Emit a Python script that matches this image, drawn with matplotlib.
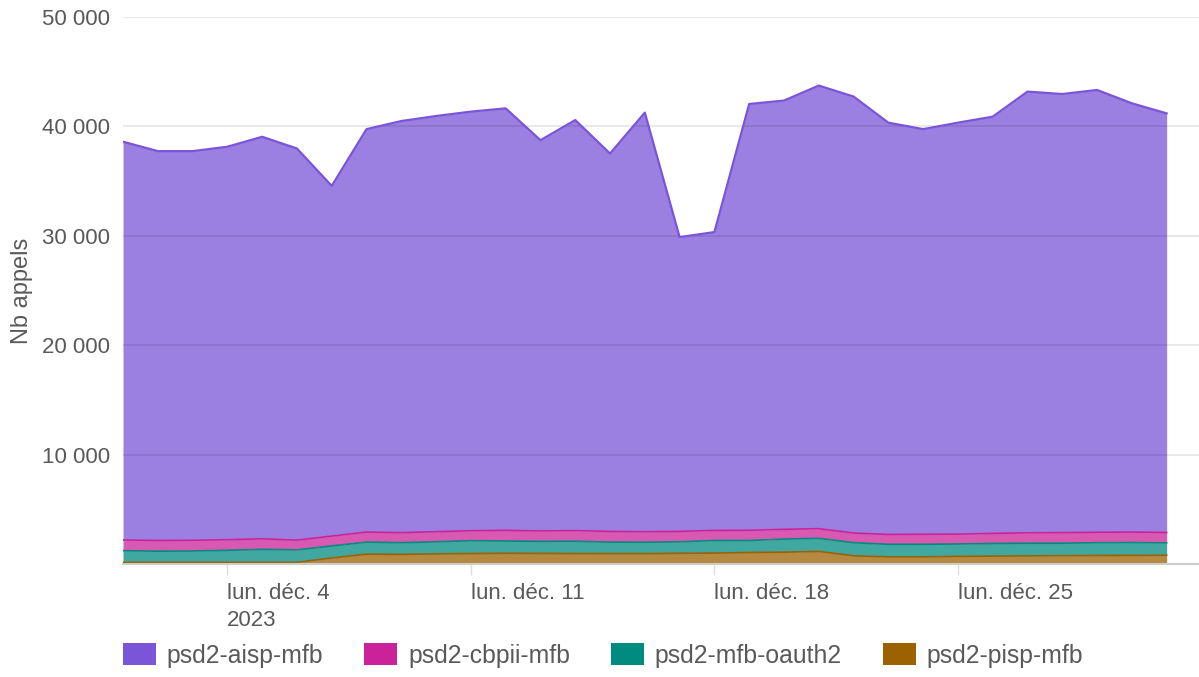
import numpy as np
import pandas as pd
import matplotlib
matplotlib.use("Agg")
import matplotlib.pyplot as plt
import matplotlib.dates as mdates
from matplotlib.patches import Patch
from matplotlib.ticker import FuncFormatter

plt.rcParams["font.family"] = ["Liberation Sans", "DejaVu Sans"]

# ── données ──────────────────────────────────────────────────────────────
dates = pd.date_range("2023-12-01", "2023-12-31", freq="D")

aisp = [36400, 35590, 35570, 35920, 36750, 35800, 32010, 36830, 37620, 38000,
        38310, 38570, 35720, 37530, 34540, 38310, 26900, 27270, 38970, 39190,
        40500, 39900, 37640, 37030, 37610, 38090, 40330, 40090, 40430, 39190,
        38310]
cbpii = [980, 980, 980, 970, 960, 890, 900, 920, 920, 920,
         910, 980, 950, 970, 980, 960, 950, 920, 930, 890,
         880, 880, 900, 920, 900, 920, 950, 970, 950, 960,
         950]
oauth2 = [1070, 1020, 1040, 1100, 1190, 1140, 1100, 1100, 1070, 1110,
          1170, 1120, 1100, 1120, 1050, 1040, 1050, 1150, 1100, 1200,
          1200, 1200, 1150, 1150, 1130, 1160, 1160, 1140, 1170, 1170,
          1130]
pisp = [150, 150, 150, 150, 150, 150, 550, 900, 880, 920,
        960, 980, 970, 960, 950, 950, 980, 1000, 1050, 1080,
        1150, 750, 650, 650, 700, 720, 740, 760, 780, 790,
        800]

# ordre d'empilement : du bas vers le haut
SERIES = [
    ("psd2-pisp-mfb", pisp, "#9c6100"),
    ("psd2-mfb-oauth2", oauth2, "#008b80"),
    ("psd2-cbpii-mfb", cbpii, "#cc2299"),
    ("psd2-aisp-mfb", aisp, "#7a55d8"),
]
LEGEND_ORDER = ["psd2-aisp-mfb", "psd2-cbpii-mfb", "psd2-mfb-oauth2", "psd2-pisp-mfb"]

TXT = "#595959"

# ── figure ───────────────────────────────────────────────────────────────
W, H = 1199, 677
fig = plt.figure(figsize=(W / 100, H / 100), dpi=100)
ax = fig.add_axes([123 / W, 1 - 564 / H, 1 - 123 / W, (564 - 17) / H])

x = mdates.date2num(dates)
base = np.zeros(len(dates))
for name, vals, col in SERIES:
    top = base + np.array(vals, dtype=float)
    ax.fill_between(x, base, top, color=col, alpha=0.75, linewidth=0, zorder=2)
    lw = 1.6 if name == "psd2-aisp-mfb" else 1.2
    ax.plot(x, top, color=col, linewidth=lw, zorder=3)
    base = top

# axes
ax.set_ylim(0, 50000)
ax.set_xlim(x[0], x[0] + 30.93)
ax.set_yticks([10000, 20000, 30000, 40000, 50000])
ax.yaxis.set_major_formatter(FuncFormatter(lambda v, p: f"{int(v):,}".replace(",", " ")))
ax.grid(axis="y", color="black", alpha=0.1, linewidth=1.2, zorder=4)
ax.set_axisbelow(False)

mondays = pd.to_datetime(["2023-12-04", "2023-12-11", "2023-12-18", "2023-12-25"])
ax.set_xticks(mdates.date2num(mondays))
ax.set_xticklabels(["lun. déc. 4\n2023", "lun. déc. 11", "lun. déc. 18", "lun. déc. 25"])
for lab in ax.get_xticklabels():
    lab.set_horizontalalignment("left")
    lab.set_linespacing(1.35)

for side in ["top", "right", "left"]:
    ax.spines[side].set_visible(False)
ax.spines["bottom"].set_color("#cccccc")
ax.spines["bottom"].set_linewidth(1.5)
ax.spines["bottom"].set_zorder(5)

ax.tick_params(axis="y", length=0, pad=9, labelsize=16, labelcolor=TXT)
ax.tick_params(axis="x", length=8, width=1, color="#dddddd", pad=6,
               labelsize=16, labelcolor=TXT)

ax.set_ylabel("Nb appels", fontsize=17, color=TXT)
ax.yaxis.set_label_coords(-0.0836, 0.5)

# légende
col_of = {n: c for n, _, c in SERIES}
handles = [Patch(facecolor=col_of[n], edgecolor="none", label=n) for n in LEGEND_ORDER]
fig.legend(handles=handles, loc="upper left", bbox_to_anchor=(122.7 / W, 1 - 643 / H),
           ncol=4, frameon=False, fontsize=17.8, labelcolor=TXT,
           handlelength=1.34, handleheight=1.0, handletextpad=0.44,
           columnspacing=1.65, borderpad=0, borderaxespad=0)

fig.savefig("out.png", dpi=100)
